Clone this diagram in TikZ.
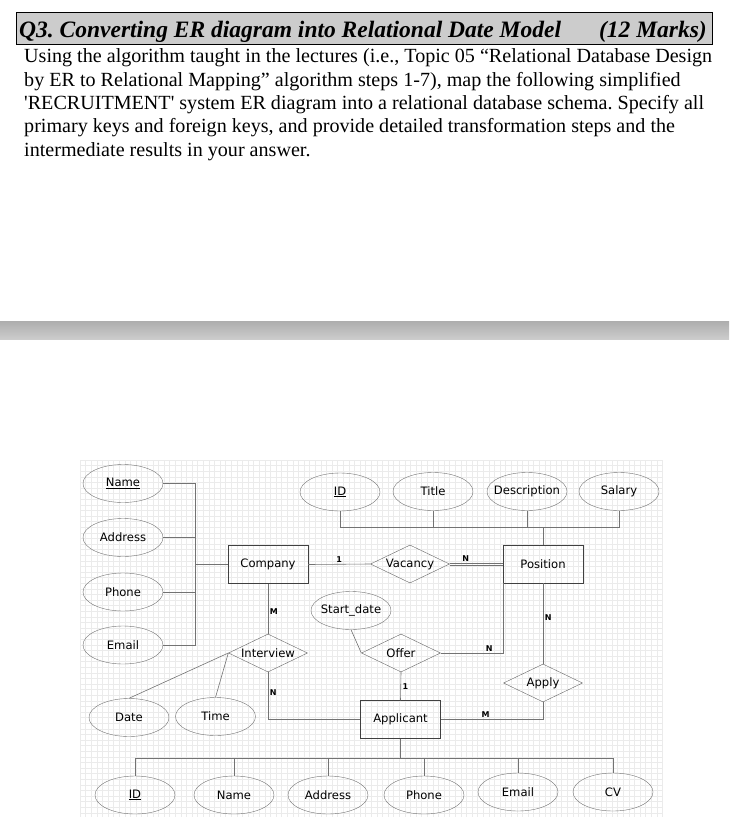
\documentclass[tikz,border=0pt]{standalone}
\usepackage{fontspec}
\setmainfont{Liberation Serif}
\newfontfamily\erfont{DejaVu Sans}
\usetikzlibrary{shapes.geometric}
\frenchspacing

\tikzset{
  titlebar/.style={rectangle, draw=black, fill=black!20, line width=0.8pt},
  bodyline/.style={anchor=base west, inner sep=0pt, font=\fontsize{20.1}{21}\selectfont},
  gridline/.style={black!8, line width=0.4pt},
  attr/.style={ellipse, draw=black!55, minimum width=80pt, minimum height=38pt,
    inner xsep=-9pt, inner ysep=0pt, font=\erfont\fontsize{11.6}{12}\selectfont},
  ent/.style={rectangle, draw=black!75, minimum width=80pt, minimum height=38pt,
    font=\erfont\fontsize{11.6}{12}\selectfont},
  rel/.style={diamond, draw=black!60, aspect=2, inner sep=0pt, minimum width=79pt,
    minimum height=38pt, font=\erfont\fontsize{11.6}{12}\selectfont},
  link/.style={draw=black!55, line width=0.6pt},
  card/.style={inner sep=1.5pt, font=\erfont\bfseries\fontsize{8}{8}\selectfont}
}

\begin{document}
\begin{tikzpicture}[x=1pt, y=-1pt]
    \useasboundingbox (0,0) rectangle (729,818);

    % Question text

    \node[titlebar, minimum width=696pt, minimum height=32pt] (titlebox) at (364,28) {};
    \node[anchor=base west, inner sep=0pt, font=\fontsize{23.5}{24}\selectfont\bfseries\itshape]
        (qtitle) at (19,38) {Q3. Converting ER diagram into Relational Date Model};
    \node[anchor=base east, inner sep=0pt, font=\fontsize{23.5}{24}\selectfont\bfseries\itshape]
        (marks) at (707,38) {(12 Marks)};
    \node[bodyline] (line1) at (24,63) {Using the algorithm taught in the lectures (i.e., Topic 05 “Relational Database Design};
    \node[bodyline] (line2) at (24,86.3) {by ER to Relational Mapping” algorithm steps 1-7), map the following simplified};
    \node[bodyline] (line3) at (24,109.6) {\textquotesingle RECRUITMENT\textquotesingle\ system ER diagram into a relational database schema. Specify all};
    \node[bodyline] (line4) at (24,132.9) {primary keys and foreign keys, and provide detailed transformation steps and the};
    \node[bodyline] (line5) at (24,156.2) {intermediate results in your answer.};

    % Separator bar

    \shade[top color=black!32, middle color=black!10, bottom color=black!20] (0,321) rectangle (729,339);

    % Grid

    \foreach \gx in {80,85.6,...,663} \draw[gridline] (\gx,460) -- (\gx,817);
    \foreach \gy in {460,465.6,...,817} \draw[gridline] (80,\gy) -- (663,\gy);

    % Entities and relationships

    \node[ent] (company) at (268,564.5) {Company};
    \node[ent] (position) at (543,564) {Position};
    \node[ent] (applicant) at (400.5,719.5) {Applicant};
    \node[rel] (vacancy) at (410,564) {Vacancy};
    \node[rel] (interview) at (268,653) {Interview};
    \node[rel] (offer) at (401,653) {Offer};
    \node[rel] (apply) at (543,683) {Apply};

    % Attributes

    \node[attr] (cname) at (123,483.5) {\underline{Name}};
    \node[attr] (caddr) at (123,537.5) {Address};
    \node[attr] (cphone) at (123,592) {Phone};
    \node[attr] (cemail) at (123,645) {Email};
    \node[attr] (pid) at (340,492) {\underline{ID}};
    \node[attr] (ptitle) at (433,491.5) {Title};
    \node[attr] (pdesc) at (527,491.5) {Description};
    \node[attr] (psalary) at (619,491.5) {Salary};
    \node[attr] (start) at (351,610.5) {Start\_date};
    \node[attr] (idate) at (129,717.5) {Date};
    \node[attr] (itime) at (215.5,716.5) {Time};
    \node[attr] (aid) at (135,795) {\underline{ID}};
    \node[attr] (aname) at (234,795) {Name};
    \node[attr] (aaddr) at (328,795) {Address};
    \node[attr] (aphone) at (424,795) {Phone};
    \node[attr] (aemail) at (518,792) {Email};
    \node[attr] (acv) at (613,792) {CV};

    \coordinate (cbus) at (195,564.5);
    \coordinate (pbus) at (543,527);
    \coordinate (abus) at (400.5,758);

    % Connectors

    \draw[link] (cname.east) -| (cbus);
    \draw[link] (caddr.east) -| (cbus);
    \draw[link] (cphone.east) -| (cbus);
    \draw[link] (cemail.east) -| (cbus);
    \draw[link] (cbus) -- (company.west);
    \draw[link] (pid.south) |- (pbus);
    \draw[link] (ptitle.south) |- (pbus);
    \draw[link] (pdesc.south) |- (pbus);
    \draw[link] (psalary.south) |- (pbus);
    \draw[link] (pbus) -- (position.north);
    \draw[link] (company.east) -- node[card, above] {1} (vacancy.west);
    \draw[link] ([yshift=1.1pt]vacancy.east) -- node[card, above, pos=0.3] {N} ([yshift=1.1pt]position.west);
    \draw[link] ([yshift=-1.1pt]vacancy.east) -- ([yshift=-1.1pt]position.west);
    \draw[link] (company.south) -- node[card, right, pos=0.55] {M} (interview.north);
    \draw[link] (interview.south) |- node[card, right, pos=0.22] {N} (applicant.west);
    \draw[link] (interview.west) -- (idate.north);
    \draw[link] (interview.west) -- (itime.north);
    \draw[link] (start.south) -- (offer.west);
    \draw[link] (offer.east) -| node[card, above, pos=0.39] {N} (position.south west);
    \draw[link] (offer.south) -- node[card, right] {1} (applicant.north);
    \draw[link] (position.south) -- node[card, right, pos=0.43] {N} (apply.north);
    \draw[link] (apply.south) |- node[card, above, pos=0.78] {M} (applicant.east);
    \draw[link] (applicant.south) -- (abus);
    \draw[link] (aid.north) |- (abus);
    \draw[link] (aname.north) |- (abus);
    \draw[link] (aaddr.north) |- (abus);
    \draw[link] (aphone.north) |- (abus);
    \draw[link] (aemail.north) |- (abus);
    \draw[link] (acv.north) |- (abus);

\end{tikzpicture}
\end{document}
